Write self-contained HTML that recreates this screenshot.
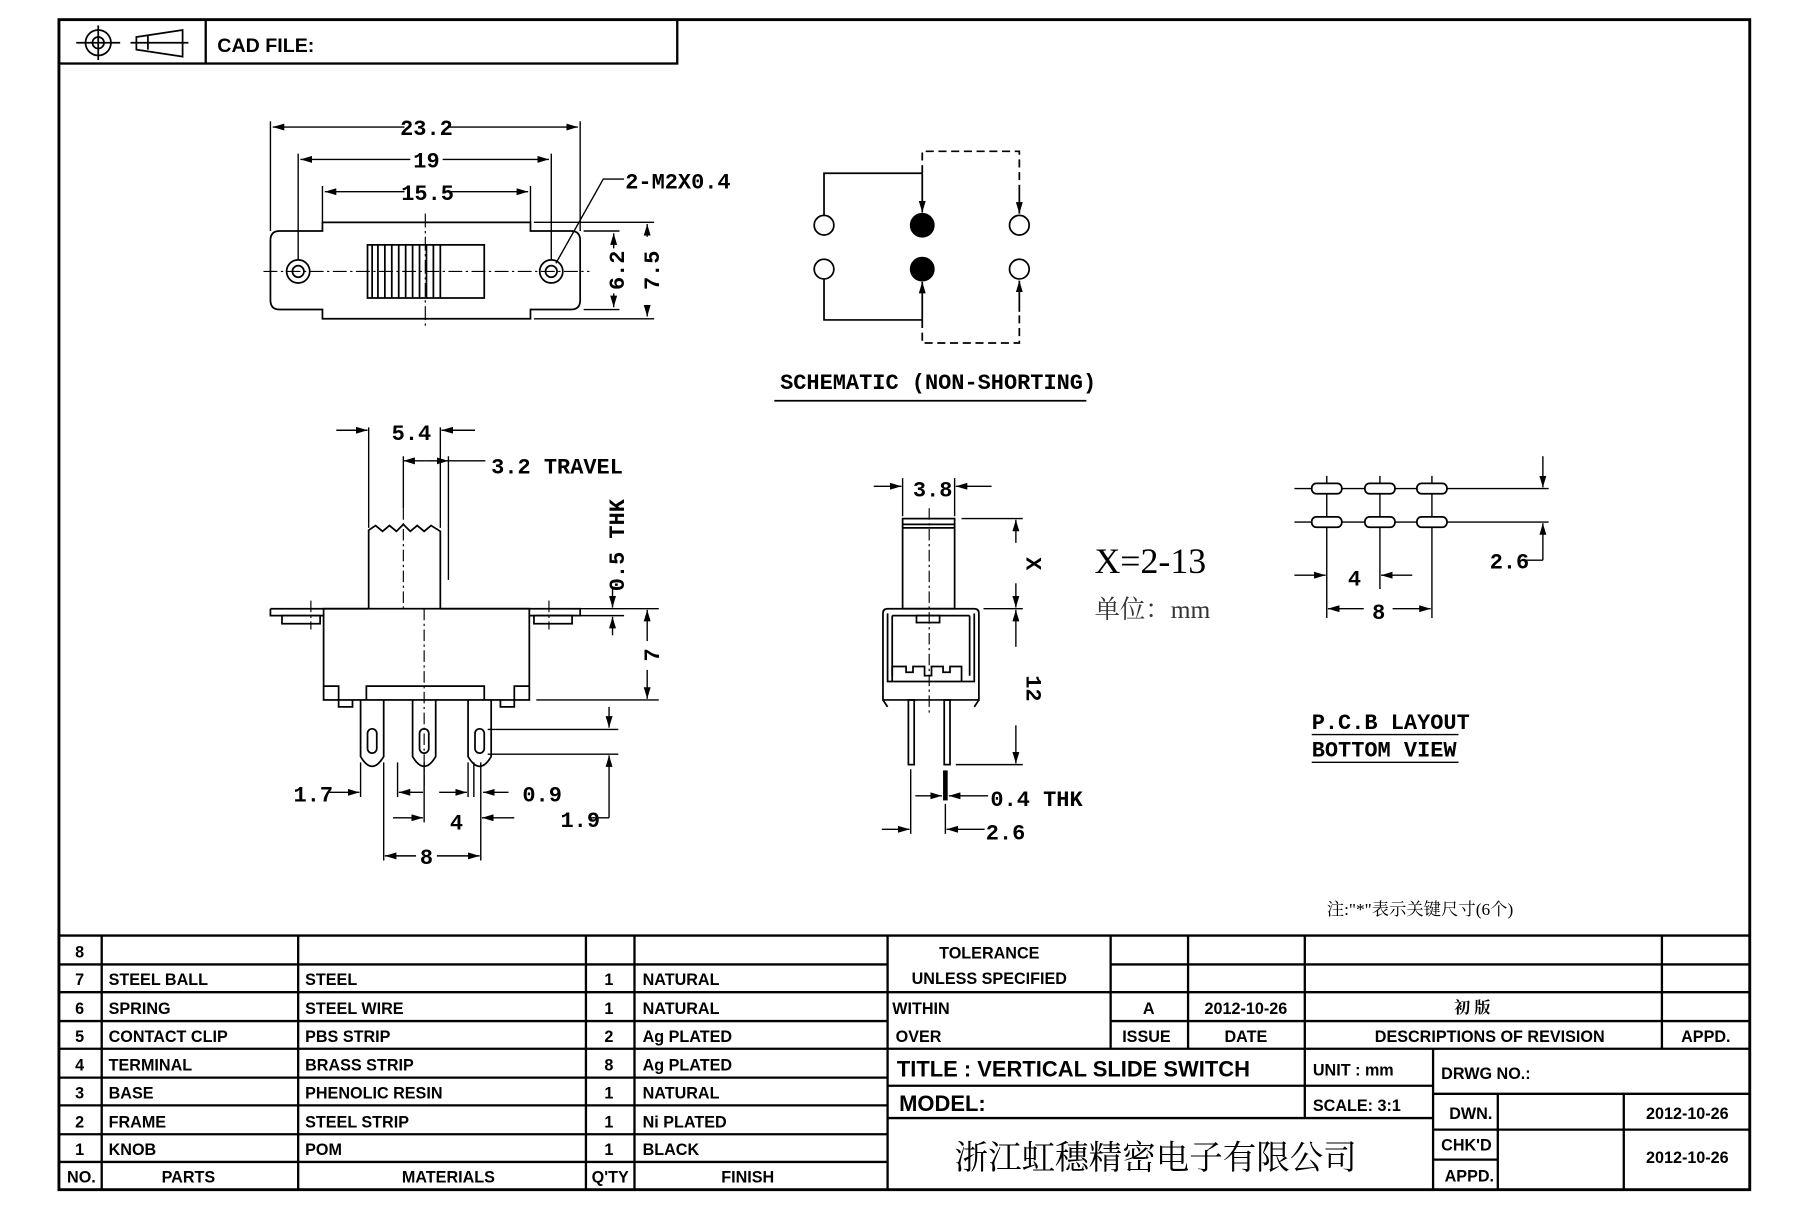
<!DOCTYPE html>
<html><head><meta charset="utf-8"><style>
html,body{margin:0;padding:0;background:#fff;}
svg{display:block;}
text{font-family:"Liberation Sans Narrow","Liberation Sans",sans-serif;font-weight:bold;fill:#000;}
.d{font-family:"Liberation Mono",monospace;font-weight:bold;}
.cjk{font-family:"Liberation Serif","Noto Serif CJK SC",serif;font-weight:normal;}
</style></head><body>
<svg width="1811" height="1207" viewBox="0 0 1567 1045" preserveAspectRatio="none" xmlns="http://www.w3.org/2000/svg">
<defs>
<marker id="a" viewBox="0 0 10 6" refX="10" refY="3" markerWidth="10" markerHeight="6" orient="auto-start-reverse" markerUnits="userSpaceOnUse"><path d="M0,0 L10,3 L0,6z" fill="#000"/></marker>
</defs>
<rect width="1567" height="1045" fill="#fff"/>
<g stroke="#000" fill="none">
<rect x="51" y="17" width="1463" height="1013" stroke-width="2.5"/>
<rect x="51" y="17" width="535" height="38" stroke-width="2"/>
<line x1="178" y1="17" x2="178" y2="55" stroke-width="2"/>
<circle cx="85" cy="37" r="11" stroke-width="1.5"/><circle cx="85" cy="37" r="5" stroke-width="1.5"/>
<line x1="66" y1="37" x2="104" y2="37" stroke-width="1.5"/><line x1="85" y1="22" x2="85" y2="52" stroke-width="1.5"/>
<path d="M118,32 L118,43 L158,49 L158,26 Z M113,37 L163,37 M128,31 L128,43" stroke-width="1.5"/>

<g stroke-width="2">
<line x1="51" y1="810" x2="1514" y2="810"/>
<line x1="51" y1="835" x2="768" y2="835"/><line x1="961" y1="835" x2="1514" y2="835"/>
<line x1="51" y1="859" x2="1514" y2="859"/>
<line x1="51" y1="884" x2="768" y2="884"/><line x1="961" y1="884" x2="1514" y2="884"/>
<line x1="51" y1="908" x2="1514" y2="908"/>
<line x1="51" y1="933" x2="768" y2="933"/>
<line x1="51" y1="957" x2="768" y2="957"/>
<line x1="51" y1="982" x2="768" y2="982"/>
<line x1="51" y1="1006" x2="768" y2="1006"/>
<line x1="88" y1="810" x2="88" y2="1030"/><line x1="258" y1="810" x2="258" y2="1030"/>
<line x1="507" y1="810" x2="507" y2="1030"/><line x1="549" y1="810" x2="549" y2="1030"/>
<line x1="768" y1="810" x2="768" y2="1030"/>
<line x1="961" y1="810" x2="961" y2="908"/><line x1="1028" y1="810" x2="1028" y2="908"/>
<line x1="1129" y1="810" x2="1129" y2="968"/><line x1="1438" y1="810" x2="1438" y2="908"/>
<line x1="768" y1="940" x2="1240" y2="940"/><line x1="768" y1="968" x2="1240" y2="968"/>
<line x1="1240" y1="908" x2="1240" y2="1030"/>
<line x1="1240" y1="947" x2="1514" y2="947"/>
<line x1="1240" y1="978" x2="1514" y2="978"/>
<line x1="1240" y1="1004" x2="1296" y2="1004"/>
<line x1="1296" y1="947" x2="1296" y2="1030"/><line x1="1405" y1="947" x2="1405" y2="1030"/>
</g>

<g stroke-width="1.5">
<path d="M279,200 L279,192.5 L459,192.5 L459,200 L494,200 Q502,200 502,208 L502,260 Q502,268 494,268 L459,268 L459,276 L279,276 L279,268 L242,268 Q234,268 234,260 L234,208 Q234,200 242,200 Z"/>
<circle cx="258" cy="235" r="10"/><circle cx="258" cy="235" r="5"/>
<circle cx="477" cy="235" r="10"/><circle cx="477" cy="235" r="5"/>
<rect x="318" y="212" width="101" height="46"/>
<path d="M322,212V258M327,212V258M333,212V258M339,212V258M345,212V258M351,212V258M357,212V258M363,212V258M369,212V258M375,212V258M381,212V258"/>
</g>
<line x1="228" y1="235" x2="510" y2="235" stroke-width="1" stroke-dasharray="12,3,2,3"/>
<line x1="368" y1="185" x2="368" y2="285" stroke-width="1" stroke-dasharray="12,3,2,3"/>
<g stroke-width="1.2">
<path d="M234,200V105M502,200V105M258,225V133M477,225V133M279,192V161M459,192V161"/>
<line x1="236" y1="110" x2="350" y2="110" marker-start="url(#a)"/><line x1="388" y1="110" x2="500" y2="110" marker-end="url(#a)"/>
<line x1="260" y1="138" x2="355" y2="138" marker-start="url(#a)"/><line x1="383" y1="138" x2="475" y2="138" marker-end="url(#a)"/>
<line x1="281" y1="166" x2="350" y2="166" marker-start="url(#a)"/><line x1="390" y1="166" x2="457" y2="166" marker-end="url(#a)"/>
<path d="M481,228 L522,155 L540,155"/>
<path d="M462,192.5H566M462,276H566M505,200H536M505,268H536"/>
<line x1="531" y1="215" x2="531" y2="202" marker-end="url(#a)"/><line x1="531" y1="254" x2="531" y2="266" marker-end="url(#a)"/>
<line x1="560" y1="205" x2="560" y2="194" marker-end="url(#a)"/><line x1="560" y1="264" x2="560" y2="274" marker-end="url(#a)"/>
</g>

<g stroke-width="1.5">
<circle cx="713" cy="195" r="8.5"/><circle cx="713" cy="233" r="8.5"/>
<circle cx="798" cy="195" r="10" fill="#000"/><circle cx="798" cy="233" r="10" fill="#000"/>
<circle cx="882" cy="195" r="8.5"/><circle cx="882" cy="233" r="8.5"/>
<path d="M713,186V150H798"/><line x1="798" y1="150" x2="798" y2="184" marker-end="url(#a)"/>
<path d="M713,242V277H798"/><line x1="798" y1="277" x2="798" y2="244" marker-end="url(#a)"/>
<path d="M798,150V131H882V160" stroke-dasharray="7,4"/><line x1="882" y1="160" x2="882" y2="185" marker-end="url(#a)"/>
<path d="M798,277V297H882V270" stroke-dasharray="7,4"/><line x1="882" y1="270" x2="882" y2="243" marker-end="url(#a)"/>
<line x1="670" y1="347" x2="940" y2="347"/>
</g>

<g stroke-width="1.5">
<path d="M234,527H319M381,527H502V533H458M234,527V533H280"/>
<rect x="244" y="533" width="33" height="7"/><rect x="462" y="533" width="33" height="7"/>
<rect x="280" y="527" width="178" height="79"/>
<path d="M280,594H293V612H305V606M458,594H445V612H433V606M317,606V594H419V606"/>
<path d="M319,527V459L325,455L331,460L337,455L343,460L349,454L355,460L361,455L367,460L373,455L381,460V527"/>
<path d="M312,606V655Q322,672 332,655V606M357,606V655Q367,672 377,655V606M405,606V655Q415,672 425,655V606"/>
<rect x="318" y="631" width="8" height="21" rx="4"/><rect x="363" y="631" width="8" height="21" rx="4"/><rect x="411" y="631" width="8" height="21" rx="4"/>
</g>
<g stroke-width="1" stroke-dasharray="10,3,2,3"><line x1="349" y1="440" x2="349" y2="527"/><line x1="367" y1="527" x2="367" y2="680"/><line x1="269" y1="520" x2="269" y2="545"/><line x1="475" y1="520" x2="475" y2="545"/></g>
<g stroke-width="1.2">
<path d="M319,457V370M381,457V370M388,395V502M349,395V440"/>
<line x1="291" y1="372.5" x2="318" y2="372.5" marker-end="url(#a)"/><line x1="411" y1="372.5" x2="382" y2="372.5" marker-end="url(#a)"/>
<line x1="349" y1="399" x2="368" y2="399" marker-start="url(#a)"/><line x1="368" y1="399" x2="388" y2="399" marker-end="url(#a)"/><line x1="388" y1="399" x2="420" y2="399"/>
<path d="M466,527H570M466,533H540M464,606H570M422,631.5H535M422,653H535"/>
<line x1="530" y1="508" x2="530" y2="526" marker-end="url(#a)"/><line x1="530" y1="550" x2="530" y2="534" marker-end="url(#a)"/>
<line x1="560" y1="555" x2="560" y2="528" marker-end="url(#a)"/><line x1="560" y1="580" x2="560" y2="605" marker-end="url(#a)"/>
<line x1="527" y1="612" x2="527" y2="630" marker-end="url(#a)"/><line x1="527" y1="708" x2="527" y2="654" marker-end="url(#a)"/><line x1="510" y1="708" x2="527" y2="708"/>
<path d="M312,660V690M332,660V745M344,660V690M367,660V712M405,660V690M410,660V690M416,660V745"/>
<line x1="285" y1="686" x2="311" y2="686" marker-end="url(#a)"/><line x1="366" y1="686" x2="345" y2="686" marker-end="url(#a)"/>
<line x1="380" y1="686" x2="404" y2="686" marker-end="url(#a)"/><line x1="440" y1="686" x2="418" y2="686" marker-end="url(#a)"/>
<line x1="340" y1="708" x2="366" y2="708" marker-end="url(#a)"/><line x1="445" y1="708" x2="417" y2="708" marker-end="url(#a)"/>
<line x1="333" y1="741" x2="360" y2="741" marker-start="url(#a)"/><line x1="378" y1="741" x2="415" y2="741" marker-end="url(#a)"/>
</g>

<g stroke-width="1.5">
<rect x="781" y="449" width="45" height="78"/><path d="M781,454H826M781,457H826"/>
<path d="M764,531Q764,527 768,527H843Q847,527 847,531V606H764Z"/>
<path d="M768,531V590H843V531M772,533H839M772,533V585M839,533V585"/>
<rect x="793" y="533" width="20" height="6"/>
<path d="M772,590V577H784V582H790V577H800V585H806V577H816V582H822V577H832V590"/>
<path d="M764,606L768,612M847,606L843,612"/>
<rect x="786" y="606" width="5" height="56"/><rect x="817" y="606" width="5" height="56"/>
</g>
<line x1="804" y1="440" x2="804" y2="620" stroke-width="1" stroke-dasharray="10,3,2,3"/>
<rect x="816" y="667" width="4" height="26" fill="#000" stroke="none"/>
<g stroke-width="1.2">
<path d="M781,447V414M826,447V414M832,449H885M851,527H885M827,662H885M788,666V722M818,696V722"/>
<line x1="756" y1="421" x2="780" y2="421" marker-end="url(#a)"/><line x1="858" y1="421" x2="827" y2="421" marker-end="url(#a)"/>
<line x1="879" y1="470" x2="879" y2="450" marker-end="url(#a)"/><line x1="879" y1="505" x2="879" y2="526" marker-end="url(#a)"/>
<line x1="879" y1="560" x2="879" y2="528" marker-end="url(#a)"/><line x1="879" y1="628" x2="879" y2="661" marker-end="url(#a)"/>
<line x1="792" y1="689" x2="815" y2="689" marker-end="url(#a)"/><line x1="855" y1="689" x2="821" y2="689" marker-end="url(#a)"/>
<line x1="763" y1="718" x2="787" y2="718" marker-end="url(#a)"/><line x1="852" y1="718" x2="819" y2="718" marker-end="url(#a)"/>
</g>

<g stroke-width="1.2">
<path d="M1120,423H1265M1120,452H1265M1258,423H1340M1258,452H1340"/>
<path d="M1148,412V510M1194,412V510M1239,412V535M1148,462V535"/>
<line x1="1335" y1="395" x2="1335" y2="422" marker-end="url(#a)"/><line x1="1335" y1="485" x2="1335" y2="453" marker-end="url(#a)"/><line x1="1320" y1="485" x2="1335" y2="485"/>
<line x1="1120" y1="498" x2="1147" y2="498" marker-end="url(#a)"/><line x1="1222" y1="498" x2="1195" y2="498" marker-end="url(#a)"/>
<line x1="1149" y1="527" x2="1180" y2="527" marker-start="url(#a)"/><line x1="1205" y1="527" x2="1238" y2="527" marker-end="url(#a)"/>
<line x1="1135" y1="636" x2="1262" y2="636"/><line x1="1135" y1="660" x2="1262" y2="660"/>
</g>
<g stroke-width="1.5" fill="#fff">
<rect x="1135" y="418.5" width="26" height="9" rx="4"/><rect x="1181" y="418.5" width="26" height="9" rx="4"/><rect x="1226" y="418.5" width="26" height="9" rx="4"/>
<rect x="1135" y="447.5" width="26" height="9" rx="4"/><rect x="1181" y="447.5" width="26" height="9" rx="4"/><rect x="1226" y="447.5" width="26" height="9" rx="4"/>
</g>
</g>

<text x="188" y="45" font-size="17">CAD FILE:</text>
<g font-size="19">
<text class="d" x="369" y="117" text-anchor="middle">23.2</text>
<text class="d" x="369" y="145" text-anchor="middle">19</text>
<text class="d" x="370" y="173" text-anchor="middle">15.5</text>
<text class="d" x="541" y="163">2-M2X0.4</text>
<text class="d" x="0" y="0" transform="translate(540,234) rotate(-90)" text-anchor="middle">6.2</text>
<text class="d" x="0" y="0" transform="translate(570,234) rotate(-90)" text-anchor="middle">7.5</text>
<text class="d" x="356" y="381" text-anchor="middle">5.4</text>
<text class="d" x="425" y="410">3.2 TRAVEL</text>
<text class="d" x="0" y="0" transform="translate(540,472) rotate(-90)" text-anchor="middle">0.5 THK</text>
<text class="d" x="0" y="0" transform="translate(570,567) rotate(-90)" text-anchor="middle">7</text>
<text class="d" x="254" y="694">1.7</text>
<text class="d" x="452" y="694">0.9</text>
<text class="d" x="395" y="718" text-anchor="middle">4</text>
<text class="d" x="485" y="716">1.9</text>
<text class="d" x="369" y="748" text-anchor="middle">8</text>
<text class="d" x="807" y="430" text-anchor="middle">3.8</text>
<text class="d" x="0" y="0" transform="translate(888,488) rotate(90)" text-anchor="middle">X</text>
<text class="d" x="0" y="0" transform="translate(888,596) rotate(90)" text-anchor="middle">12</text>
<text class="d" x="857" y="698">0.4 THK</text>
<text class="d" x="853" y="727">2.6</text>
<text class="d" x="1289" y="492">2.6</text>
<text class="d" x="1172" y="507" text-anchor="middle">4</text>
<text class="d" x="1193" y="536" text-anchor="middle">8</text>
<text class="d" x="675" y="337">SCHEMATIC (NON-SHORTING)</text>
<text class="d" x="1135" y="631">P.C.B LAYOUT</text>
<text class="d" x="1135" y="655">BOTTOM VIEW</text>
</g>
<text x="947" y="496" font-size="31" style="font-family:'Liberation Serif','Noto Serif CJK SC',serif;font-weight:normal">X=2-13</text>
<text x="947" y="535" font-size="22" style="font-family:'Liberation Serif','Noto Serif CJK SC',serif;font-weight:normal;fill:#333">单位：mm</text>
<text x="1148" y="792" font-size="15" style="font-family:'Liberation Serif','Noto Serif CJK SC',serif;font-weight:normal">注:"*"表示关键尺寸(6个)</text>

<g font-size="14">
<text x="65" y="829">8</text>
<text x="65" y="853">7</text><text x="94" y="853">STEEL BALL</text><text x="264" y="853">STEEL</text><text x="523" y="853">1</text><text x="556" y="853">NATURAL</text>
<text x="65" y="878">6</text><text x="94" y="878">SPRING</text><text x="264" y="878">STEEL WIRE</text><text x="523" y="878">1</text><text x="556" y="878">NATURAL</text>
<text x="65" y="902">5</text><text x="94" y="902">CONTACT CLIP</text><text x="264" y="902">PBS STRIP</text><text x="523" y="902">2</text><text x="556" y="902">Ag PLATED</text>
<text x="65" y="927">4</text><text x="94" y="927">TERMINAL</text><text x="264" y="927">BRASS STRIP</text><text x="523" y="927">8</text><text x="556" y="927">Ag PLATED</text>
<text x="65" y="951">3</text><text x="94" y="951">BASE</text><text x="264" y="951">PHENOLIC RESIN</text><text x="523" y="951">1</text><text x="556" y="951">NATURAL</text>
<text x="65" y="976">2</text><text x="94" y="976">FRAME</text><text x="264" y="976">STEEL STRIP</text><text x="523" y="976">1</text><text x="556" y="976">Ni PLATED</text>
<text x="65" y="1000">1</text><text x="94" y="1000">KNOB</text><text x="264" y="1000">POM</text><text x="523" y="1000">1</text><text x="556" y="1000">BLACK</text>
<text x="58" y="1024">NO.</text><text x="163" y="1024" text-anchor="middle">PARTS</text><text x="388" y="1024" text-anchor="middle">MATERIALS</text><text x="528" y="1024" text-anchor="middle">Q'TY</text><text x="647" y="1024" text-anchor="middle">FINISH</text>
<text x="856" y="830" text-anchor="middle">TOLERANCE</text>
<text x="856" y="852" text-anchor="middle">UNLESS  SPECIFIED</text>
<text x="772" y="878">WITHIN</text><text x="775" y="902">OVER</text>
<text x="994" y="878" text-anchor="middle">A</text><text x="1078" y="878" text-anchor="middle">2012-10-26</text>
<text x="1274" y="877" text-anchor="middle" style="font-family:'Noto Serif CJK SC',serif;font-weight:bold">初  版</text>
<text x="992" y="902" text-anchor="middle">ISSUE</text><text x="1078" y="902" text-anchor="middle">DATE</text>
<text x="1289" y="902" text-anchor="middle">DESCRIPTIONS OF REVISION</text><text x="1476" y="902" text-anchor="middle">APPD.</text>
<text x="1136" y="931">UNIT :  mm</text>
<text x="1136" y="962">SCALE:  3:1</text>
<text x="1247" y="934">DRWG NO.:</text>
<text x="1254" y="969">DWN.</text><text x="1460" y="969" text-anchor="middle">2012-10-26</text>
<text x="1247" y="996">CHK'D</text><text x="1460" y="1007" text-anchor="middle">2012-10-26</text>
<text x="1250" y="1023">APPD.</text>
</g>
<text x="776" y="932" font-size="19">TITLE :  VERTICAL SLIDE SWITCH</text>
<text x="778" y="962" font-size="19">MODEL:</text>
<text x="1000" y="1012" font-size="29" text-anchor="middle" style="font-family:'Liberation Serif','Noto Serif CJK SC',serif;font-weight:normal">浙江虹穗精密电子有限公司</text>
</svg>
</body></html>
